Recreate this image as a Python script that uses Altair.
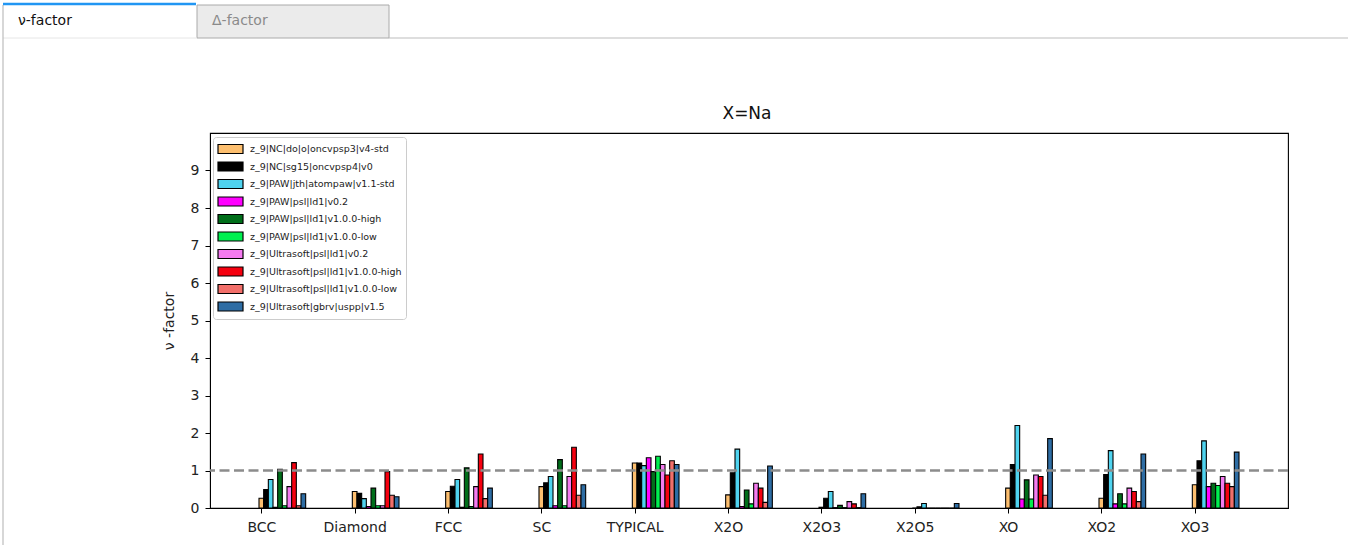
import altair as alt
import pandas as pd

categories = ["BCC", "Diamond", "FCC", "SC", "TYPICAL", "X2O", "X2O3", "X2O5", "XO", "XO2", "XO3"]

series_names = [
    "z_9|NC|do|o|oncvpsp3|v4-std",
    "z_9|NC|sg15|oncvpsp4|v0",
    "z_9|PAW|jth|atompaw|v1.1-std",
    "z_9|PAW|psl|ld1|v0.2",
    "z_9|PAW|psl|ld1|v1.0.0-high",
    "z_9|PAW|psl|ld1|v1.0.0-low",
    "z_9|Ultrasoft|psl|ld1|v0.2",
    "z_9|Ultrasoft|psl|ld1|v1.0.0-high",
    "z_9|Ultrasoft|psl|ld1|v1.0.0-low",
    "z_9|Ultrasoft|gbrv|uspp|v1.5",
]

series_colors = ["#FDBF6F", "#000000", "#4FD3EF", "#FF00FF", "#006E1A",
                 "#00F050", "#F57BF0", "#F5000F", "#F26F6A", "#2E6DA4"]

v_do_o = [0.26, 0.44, 0.44, 0.57, 1.20, 0.35, 0.02, 0.00, 0.53, 0.26, 0.62]
v_sg15 = [0.49, 0.39, 0.58, 0.67, 1.20, 0.94, 0.26, 0.03, 1.16, 0.89, 1.26]
v_jth = [0.76, 0.25, 0.76, 0.84, 1.13, 1.57, 0.44, 0.12, 2.20, 1.53, 1.79]
v_paw_psl_02 = [0.02, 0.04, 0.02, 0.06, 1.34, 0.04, 0.01, 0.00, 0.24, 0.11, 0.57]
v_paw_psl_high = [1.03, 0.53, 1.07, 1.29, 0.97, 0.48, 0.07, 0.00, 0.75, 0.38, 0.66]
v_paw_psl_low = [0.06, 0.06, 0.04, 0.06, 1.38, 0.11, 0.01, 0.00, 0.24, 0.11, 0.60]
v_us_psl_02 = [0.57, 0.06, 0.57, 0.84, 1.16, 0.66, 0.17, 0.00, 0.88, 0.53, 0.84]
v_us_psl_high = [1.21, 0.97, 1.44, 1.62, 0.88, 0.53, 0.11, 0.00, 0.84, 0.44, 0.66]
v_us_psl_low = [0.06, 0.34, 0.25, 0.34, 1.26, 0.15, 0.01, 0.00, 0.34, 0.17, 0.57]
v_gbrv = [0.38, 0.30, 0.53, 0.62, 1.16, 1.12, 0.38, 0.12, 1.85, 1.44, 1.49]

series_values = [v_do_o, v_sg15, v_jth, v_paw_psl_02, v_paw_psl_high,
                 v_paw_psl_low, v_us_psl_02, v_us_psl_high, v_us_psl_low, v_gbrv]

title_text = "X=Na"
tab_labels = ["ν-factor", "Δ-factor"]
y_title = "ν -factor"

bar_w = 0.05
rows = []
for si, (name, vals) in enumerate(zip(series_names, series_values)):
    for ci, (cat, v) in enumerate(zip(categories, vals)):
        xc = ci + si * bar_w
        rows.append({"series": name, "order": si, "category": cat,
                     "x0": xc - bar_w / 2, "x1": xc + bar_w / 2,
                     "value": v, "base": 0.0})
df = pd.DataFrame(rows)

label_expr = "[" + ",".join("'%s'" % c for c in categories) + "][datum.value]"

FONT = "DejaVu Sans"

bars = alt.Chart(df).mark_bar(stroke="black", strokeWidth=1.1, opacity=1).encode(
    x=alt.X("x0:Q", scale=alt.Scale(domain=[-0.55, 11.0], nice=False, zero=False),
            axis=alt.Axis(values=list(range(len(categories))), labelExpr=label_expr,
                          title=None, grid=False, domainColor="black", tickColor="black",
                          tickSize=5, labelFontSize=14, labelPadding=7, labelColor="#222",
                          labelFont=FONT, labelAngle=0)),
    x2="x1:Q",
    y=alt.Y("value:Q", scale=alt.Scale(domain=[0, 10], nice=False),
            axis=alt.Axis(values=list(range(10)), title=y_title, grid=False,
                          domainColor="black", tickColor="black", tickSize=5,
                          labelFontSize=14, labelPadding=6, labelColor="#222",
                          labelFont=FONT, titleFont=FONT, titleFontSize=14,
                          titleFontWeight="normal", titleColor="#222", titlePadding=14)),
    y2="base:Q",
    color=alt.Color("series:N", sort=series_names,
                    scale=alt.Scale(domain=series_names, range=series_colors),
                    legend=alt.Legend(
                        title=None, orient="none", legendX=3, legendY=4,
                        symbolType="M-1,-0.36H1V0.36H-1Z", symbolSize=625,
                        symbolStrokeColor="black", symbolStrokeWidth=1.2,
                        symbolOpacity=1, labelFontSize=9.5, labelFont=FONT,
                        labelColor="#222", labelOffset=6, clipHeight=16,
                        rowPadding=1.5, padding=4, strokeColor="#CCCCCC",
                        fillColor="white", cornerRadius=3, labelLimit=400)),
    order=alt.Order("order:Q"),
)

ref = alt.Chart(alt.Data(values=[{"y": 1}])).mark_rule(
    color="#8c8c8c", strokeWidth=2.5, strokeDash=[10, 4.5]
).encode(y="y:Q")

one = alt.Data(values=[{"a": 1}])

tab2_rect = alt.Chart(one).mark_rect(fill="#EBEBEB", stroke="#AAAAAA", strokeWidth=1).encode(
    x=alt.value(-13), x2=alt.value(179), y=alt.value(-128), y2=alt.value(-95))
blue_line = alt.Chart(one).mark_rule(color="#2196F3", strokeWidth=2.5).encode(
    x=alt.value(-207), x2=alt.value(-14), y=alt.value(-129))
under_line = alt.Chart(one).mark_rule(color="#BDBDBD", strokeWidth=1.2).encode(
    x=alt.value(179), x2=alt.value(1138), y=alt.value(-95))
under_line1 = alt.Chart(one).mark_rule(color="#E6E6E6", strokeWidth=1).encode(
    x=alt.value(-207), x2=alt.value(-13), y=alt.value(-95))
left_line = alt.Chart(one).mark_rule(color="#BDBDBD", strokeWidth=1.2).encode(
    x=alt.value(-207), y=alt.value(-128), y2=alt.value(412))
tab1_text = alt.Chart(one).mark_text(align="left", baseline="middle", fontSize=14,
                                     font=FONT, color="#111").encode(
    x=alt.value(-192), y=alt.value(-112), text=alt.value(tab_labels[0]))
tab2_text = alt.Chart(one).mark_text(align="left", baseline="middle", fontSize=14,
                                     font=FONT, color="#8a8a8a").encode(
    x=alt.value(2), y=alt.value(-112), text=alt.value(tab_labels[1]))
title_mark = alt.Chart(one).mark_text(align="center", baseline="middle", fontSize=17,
                                      font=FONT, color="#111").encode(
    x=alt.value(537), y=alt.value(-19), text=alt.value(title_text))

chart = alt.layer(
    tab2_rect, under_line, under_line1, left_line, blue_line, tab1_text, tab2_text,
    title_mark, bars, ref,
).properties(
    width=1078, height=375,
    background="white",
    padding={"left": 210, "top": 133, "right": 66, "bottom": 37},
    autosize=alt.AutoSizeParams(type="none"),
).configure_view(stroke="black", strokeWidth=1.1)

chart.save("out.html", embed_options={"renderer": "svg", "actions": False})
